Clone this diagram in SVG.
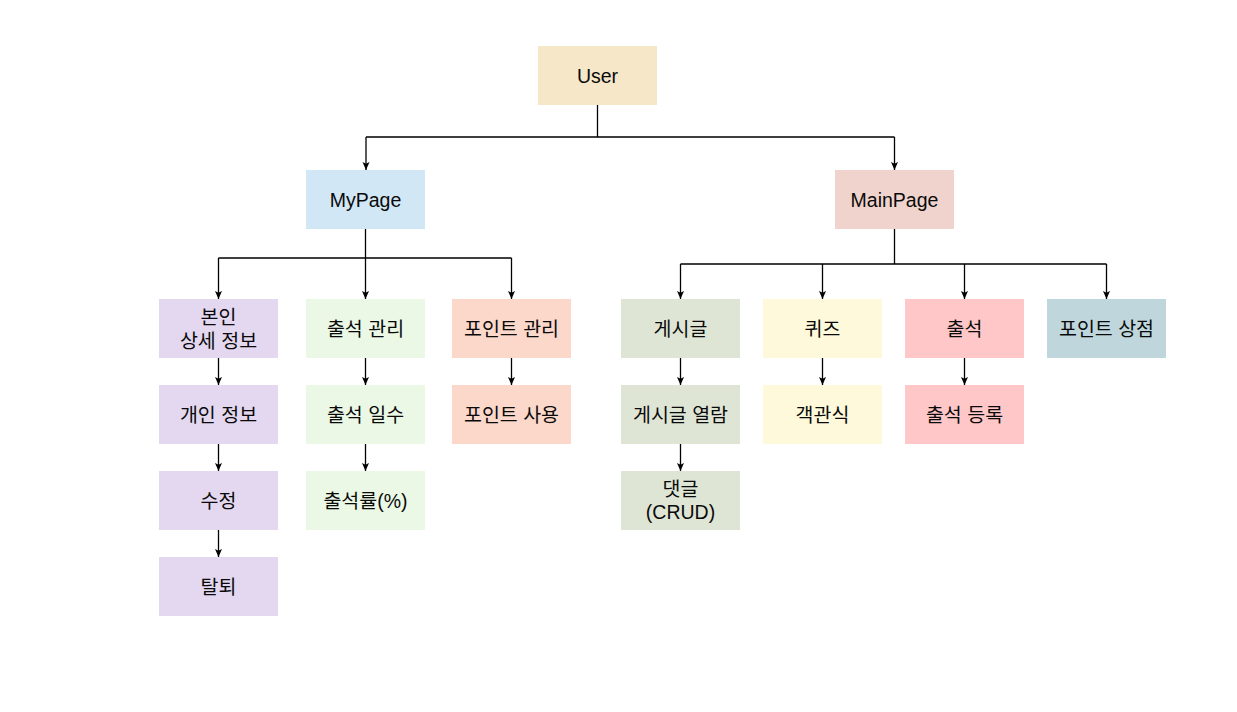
<svg xmlns="http://www.w3.org/2000/svg" width="1237" height="712" viewBox="0 0 1237 712">
<style>
text{font-family:"Liberation Sans","Noto Sans CJK KR",Arial,sans-serif;font-size:19.5px;fill:#0a0a0a;text-anchor:middle}
.c{fill:none;stroke:#000;stroke-width:1.3}
</style>
<defs>
<marker id="a" viewBox="0 0 8 8" refX="8" refY="4" markerWidth="8" markerHeight="8" markerUnits="userSpaceOnUse" orient="auto">
<path d="M0,0.5 L8,4 L0,7.5 L1.8,4 z" fill="#000"/>
</marker>
</defs>
<rect width="1237" height="712" fill="#fff"/>
<g id="connectors">
<path class="c" d="M597.5,104 V137 M366,137 H894.5"/>
<path class="c" d="M366,137 V170" marker-end="url(#a)"/>
<path class="c" d="M894.5,137 V170" marker-end="url(#a)"/>
<path class="c" d="M365.5,229 V258 M218.5,258 H511.5"/>
<path class="c" d="M218.5,258 V299" marker-end="url(#a)"/>
<path class="c" d="M365.5,258 V299" marker-end="url(#a)"/>
<path class="c" d="M511.5,258 V299" marker-end="url(#a)"/>
<path class="c" d="M894.5,229 V264 M680.5,264 H1106.5"/>
<path class="c" d="M680.5,264 V299" marker-end="url(#a)"/>
<path class="c" d="M822.5,264 V299" marker-end="url(#a)"/>
<path class="c" d="M964.5,264 V299" marker-end="url(#a)"/>
<path class="c" d="M1106.5,264 V299" marker-end="url(#a)"/>
<path class="c" d="M218.5,358 V385" marker-end="url(#a)"/>
<path class="c" d="M218.5,444 V471" marker-end="url(#a)"/>
<path class="c" d="M218.5,530 V557" marker-end="url(#a)"/>
<path class="c" d="M365.5,358 V385" marker-end="url(#a)"/>
<path class="c" d="M365.5,444 V471" marker-end="url(#a)"/>
<path class="c" d="M511.5,358 V385" marker-end="url(#a)"/>
<path class="c" d="M680.5,358 V385" marker-end="url(#a)"/>
<path class="c" d="M680.5,444 V471" marker-end="url(#a)"/>
<path class="c" d="M822.5,358 V385" marker-end="url(#a)"/>
<path class="c" d="M964.5,358 V385" marker-end="url(#a)"/>
</g>
<g id="user"><rect x="538" y="46" width="119" height="59" fill="#F5E7C8"/><text x="597.5" y="82.5">User</text></g>
<g id="mypage"><rect x="306" y="170" width="119" height="59" fill="#D2E7F6"/><text x="365.5" y="206.5">MyPage</text></g>
<g id="mainpage"><rect x="835" y="170" width="119" height="59" fill="#F0D3CD"/><text x="894.5" y="206.5">MainPage</text></g>
<g id="profile"><rect x="159" y="299" width="119" height="59" fill="#E3D8F0"/><text x="218.5" y="323.5">본인</text><text x="218.5" y="347.5">상세 정보</text></g>
<g id="personal"><rect x="159" y="385" width="119" height="59" fill="#E3D8F0"/><text x="218.5" y="421.5">개인 정보</text></g>
<g id="edit"><rect x="159" y="471" width="119" height="59" fill="#E3D8F0"/><text x="218.5" y="507.5">수정</text></g>
<g id="withdraw"><rect x="159" y="557" width="119" height="59" fill="#E3D8F0"/><text x="218.5" y="593.5">탈퇴</text></g>
<g id="att-manage"><rect x="306" y="299" width="119" height="59" fill="#EBF8E5"/><text x="365.5" y="335.5">출석 관리</text></g>
<g id="att-days"><rect x="306" y="385" width="119" height="59" fill="#EBF8E5"/><text x="365.5" y="421.5">출석 일수</text></g>
<g id="att-rate"><rect x="306" y="471" width="119" height="59" fill="#EBF8E5"/><text x="365.5" y="507.5">출석률(%)</text></g>
<g id="pt-manage"><rect x="452" y="299" width="119" height="59" fill="#FCD8CB"/><text x="511.5" y="335.5">포인트 관리</text></g>
<g id="pt-use"><rect x="452" y="385" width="119" height="59" fill="#FCD8CB"/><text x="511.5" y="421.5">포인트 사용</text></g>
<g id="post"><rect x="621" y="299" width="119" height="59" fill="#DFE5D5"/><text x="680.5" y="335.5">게시글</text></g>
<g id="post-view"><rect x="621" y="385" width="119" height="59" fill="#DFE5D5"/><text x="680.5" y="421.5">게시글 열람</text></g>
<g id="comment"><rect x="621" y="471" width="119" height="59" fill="#DFE5D5"/><text x="680.5" y="496">댓글</text><text x="680.5" y="519">(CRUD)</text></g>
<g id="quiz"><rect x="763" y="299" width="119" height="59" fill="#FEF9DB"/><text x="822.5" y="335.5">퀴즈</text></g>
<g id="mc"><rect x="763" y="385" width="119" height="59" fill="#FEF9DB"/><text x="822.5" y="421.5">객관식</text></g>
<g id="att"><rect x="905" y="299" width="119" height="59" fill="#FFC7C7"/><text x="964.5" y="335.5">출석</text></g>
<g id="att-reg"><rect x="905" y="385" width="119" height="59" fill="#FFC7C7"/><text x="964.5" y="421.5">출석 등록</text></g>
<g id="shop"><rect x="1047" y="299" width="119" height="59" fill="#BFD7DC"/><text x="1106.5" y="335.5">포인트 상점</text></g>
</svg>
